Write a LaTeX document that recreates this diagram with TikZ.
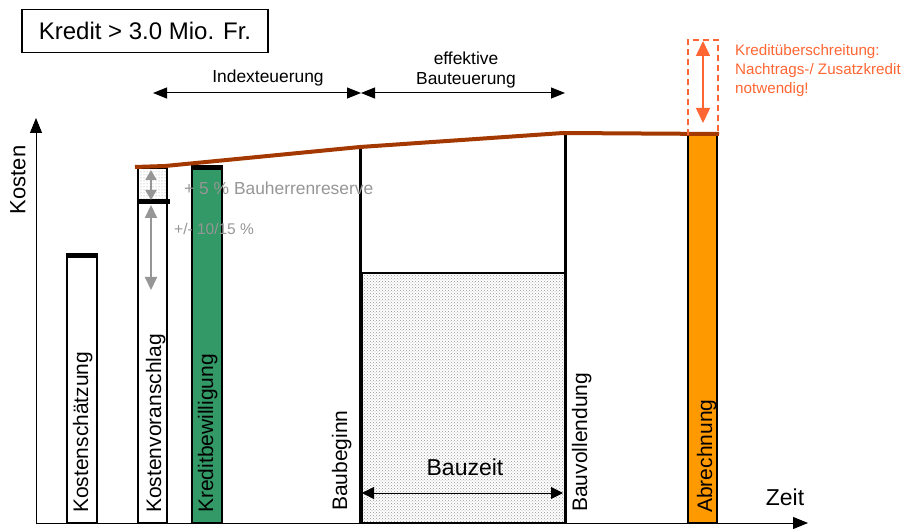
\documentclass[tikz,border=0pt]{standalone}
\usepackage{fontspec}
\setmainfont{Liberation Sans}
\usetikzlibrary{arrows, arrows.meta, positioning, patterns}

\definecolor{kgreen}{RGB}{51,153,102}
\definecolor{korange}{RGB}{255,153,0}
\definecolor{kred}{RGB}{255,102,51}
\definecolor{kbrown}{RGB}{163,56,0}
\definecolor{kgray}{RGB}{150,150,150}

\begin{document}
\begin{tikzpicture}[x=1pt,y=-1pt]
\tikzset{bar/.style = {draw, line width=2pt}}
\tikzset{lbl/.style = {rotate=90, anchor=base west, inner sep=0pt, font=\fontsize{21}{21}\selectfont}}
\tikzset{txt/.style = {inner sep=0pt, font=\fontsize{17.4}{20}\selectfont}}
\tikzset{dimline/.style = {line width=1pt, {Triangle[length=14pt,width=11pt]}-{Triangle[length=14pt,width=11pt]}}}
\tikzset{axis/.style = {line width=1pt, -{Triangle[length=15pt,width=12pt]}}}
\tikzset{graydim/.style = {kgray, line width=2pt, {Triangle[length=13pt,width=12pt]}-{Triangle[length=13pt,width=12pt]}}}
\useasboundingbox (0,0) rectangle (903,529);
% title
\node[draw, line width=1.5pt, minimum width=246pt, minimum height=43pt,
      font=\fontsize{24}{24}\selectfont] (title) at (145,31) {Kredit > 3.0 Mio. Fr.};
% axes
\coordinate (o) at (36,523);
\coordinate (ytop) at (36,118);
\coordinate (xend) at (808,523);
\draw[axis] (o) -- (ytop);
\draw[axis] (o) -- (xend);
\node[rotate=90, font=\fontsize{22}{22}\selectfont] (kosten) at (18,180) {Kosten};
\node[font=\fontsize{23}{23}\selectfont] (zeit) at (785,497) {Zeit};
% bars
\draw[bar] (67,523) rectangle (97,256);
\draw[line width=5pt] (66,256) -- (98,256);
\draw[bar, pattern=dots, pattern color=kgray] (138,202) rectangle (167,168);
\draw[bar] (138,523) rectangle (167,202);
\draw[line width=5pt] (137,202) -- (170,202);
\draw[bar, fill=kgreen] (192,523) rectangle (222,168);
\draw[line width=5pt] (191,168) -- (223,168);
\draw[bar, pattern=crosshatch dots, pattern color=kgray] (362,523) rectangle (565,273);
\draw[line width=3pt] (360,148) -- (360,523);
\draw[line width=3pt] (565,133) -- (565,523);
\draw[bar, fill=korange] (688,523) rectangle (717,135);
% cost line
\draw[kbrown, line width=4pt] (135,167) -- (165,166) -- (360,147) -- (563,133) -- (719,134);
% reserve
\draw[graydim, {Triangle[length=10pt,width=11pt]}-{Triangle[length=10pt,width=11pt]}] (151,170) -- (151,200);
\draw[graydim] (151,205) -- (151,290);
\node[txt, kgray, anchor=west] (reserve) at (184,188) {+ 5 \% Bauherrenreserve};
\node[txt, kgray, anchor=west, font=\fontsize{15.5}{18}\selectfont] (genau) at (174,229) {+/- 10/15 \%};
% teuerung
\coordinate (ia) at (153,93);
\coordinate (ib) at (361,93);
\coordinate (ic) at (565,93);
\draw[dimline] (ia) -- (ib);
\draw[dimline] (ib) -- (ic);
\node[txt] (index) at (268,78) {Indexteuerung};
\node[txt, align=center] (eff) at (466,70) {effektive\\Bauteuerung};
% bauzeit
\coordinate (za) at (362,493);
\coordinate (zb) at (563,493);
\draw[dimline, {Triangle[length=12pt,width=12pt]}-{Triangle[length=12pt,width=12pt]}] (za) -- (zb);
\node[font=\fontsize{23}{23}\selectfont] (bauzeit) at (465,467) {Bauzeit};
% ueberschreitung
\draw[kred, line width=1.5pt, dash pattern=on 6pt off 4pt] (688,135) -- (688,40) -- (718,40) -- (718,135);
\coordinate (ua) at (703,41);
\coordinate (ub) at (703,123);
\draw[kred, line width=1.5pt, {Triangle[length=15pt,width=14pt]}-{Triangle[length=15pt,width=14pt]}] (ua) -- (ub);
\node[kred, anchor=north west, align=left, inner sep=0pt,
      font=\fontsize{15.2}{19}\selectfont] (kue) at (735,44) {Kredit\"uberschreitung:\\Nachtrags-/ Zusatzkredit\\notwendig!};
% labels
\node[lbl] (ks) at (88,513) {Kostensch\"atzung};
\node[lbl] (kv) at (161,513) {Kostenvoranschlag};
\node[lbl] (kb) at (213,513) {Kreditbewilligung};
\node[lbl] (bb) at (347,511) {Baubeginn};
\node[lbl] (bv) at (587,512) {Bauvollendung};
\node[lbl] (ab) at (712,513) {Abrechnung};
\end{tikzpicture}
\end{document}
